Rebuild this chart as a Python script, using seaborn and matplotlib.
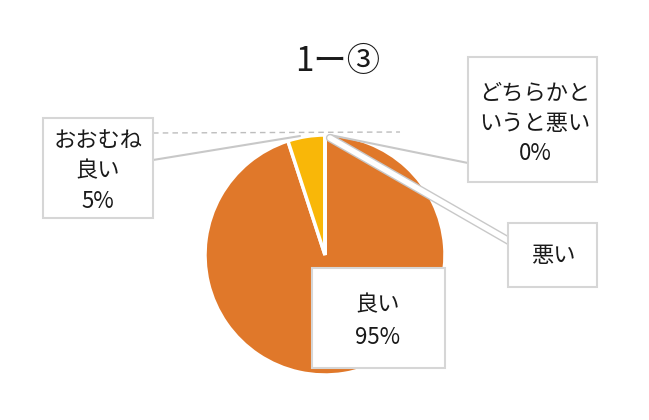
import matplotlib
matplotlib.use("Agg")
import matplotlib.pyplot as plt
import matplotlib.patheffects as pe
from matplotlib.patches import Rectangle
import seaborn as sns

sns.set_theme(style="white")
plt.rcParams['font.family'] = ['Noto Sans CJK JP', 'DejaVu Sans']

title = "1ー③"
categories = ["良い", "おおむね良い", "どちらかというと悪い", "悪い"]
values = [95, 5, 0, 0]
label_lines = [["良い", "95%"], ["おおむね", "良い", "5%"], ["どちらかと", "いうと悪い", "0%"], ["悪い"]]
colors = ["#E0782A", "#F9B708", "#A9A9A9", "#7F7F7F"]

W, H = 649, 420
fig = plt.figure(figsize=(W / 100, H / 100), dpi=100)
ax = fig.add_axes([0, 0, 1, 1])

def Y(y):
    return H - y

cx, cy, r = 325, 255, 120
plot_vals = [v if v > 0 else 1e-9 for v in values]
wedges, _ = ax.pie(plot_vals, colors=colors, startangle=90, counterclock=False,
                   center=(cx, Y(cy)), radius=r,
                   wedgeprops=dict(edgecolor="white", linewidth=2.5), frame=True)
ax.set_xlim(0, W)
ax.set_ylim(0, H)
ax.set_aspect("equal")
ax.axis("off")

# leader lines
gray = "#C8C8C8"
ax.plot([153, 300], [Y(160), Y(136)], color=gray, lw=1.5, zorder=3)
ax.plot([153, 400], [Y(133), Y(132)], color="#BDBDBD", lw=1, ls=(0, (4, 3)), zorder=3)
ax.plot([330, 468], [Y(135), Y(163)], color=gray, lw=1.5, zorder=3)
ax.plot([330, 509], [Y(138), Y(241)], color="white", lw=4, zorder=3,
        path_effects=[pe.Stroke(linewidth=6, foreground="#C8C8C8"), pe.Normal()])

# label boxes: (left, top, right, bottom), centre x, line y's
boxes = [
    ((312, 268, 445, 368), 378, [305, 337]),
    ((43, 118, 153, 218), 98, [140, 171, 201]),
    ((468, 57, 597, 182), 535, [93, 124, 154]),
    ((508, 223, 597, 287), 553, [256]),
]
for lines, (box, tx, ys) in zip(label_lines, boxes):
    l, t, rr, b = box
    ax.add_patch(Rectangle((l, Y(b)), rr - l, b - t, facecolor="white",
                           edgecolor="#D6D6D6", lw=1.5, zorder=4))
    for line, yy in zip(lines, ys):
        ax.text(tx, Y(yy), line, ha="center", va="center", fontsize=16,
                color="#1a1a1a", zorder=5)

ax.text(338, Y(62), title, ha="center", va="center", fontsize=24, color="#1a1a1a")

fig.savefig("out.png", dpi=100, facecolor="white")
